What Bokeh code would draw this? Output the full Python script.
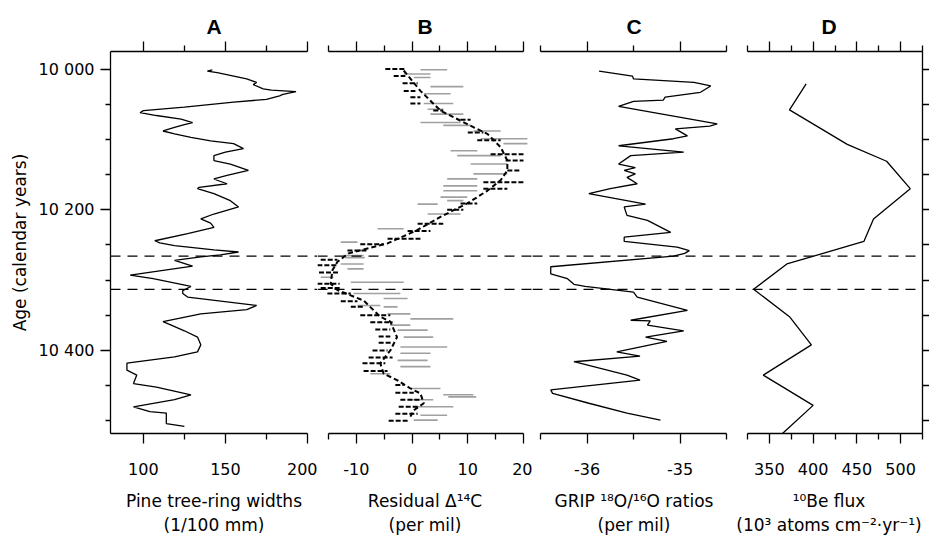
from bokeh.plotting import figure
from bokeh.layouts import row
from bokeh.models import Range1d, FixedTicker, LinearAxis, Span
from bokeh.embed import file_html
from bokeh.resources import INLINE

# ---------------- data ----------------
panel_titles = ["A", "B", "C", "D"]
x_titles = ["Pine tree-ring widths\n(1/100 mm)",
            "Residual \u0394\u00b9\u2074C\n(per mil)",
            "GRIP \u00b9\u2078O/\u00b9\u2076O ratios\n(per mil)",
            "\u00b9\u2070Be flux\n(10\u00b3 atoms cm\u207b\u00b2\u00b7yr\u207b\u00b9)"]
y_title = "Age (calendar years)"
age_ticks = [10000, 10200, 10400]
age_tick_labels = ["10 000", "10 200", "10 400"]
age_minor = [10050, 10100, 10150, 10250, 10300, 10350, 10450, 10500]
boundary_years = [10266, 10313]

# A: pine tree-ring widths
years_a = [10001, 10003, 10005, 10014, 10019, 10022, 10028, 10030, 10032, 10036, 10038, 10043, 10047,
           10054, 10059, 10062, 10066, 10071, 10076, 10079, 10083, 10088, 10092,
           10097, 10102, 10106, 10113, 10118, 10123, 10130, 10135, 10144, 10151,
           10156, 10158, 10163, 10168, 10170, 10177, 10187, 10196, 10206, 10213,
           10219, 10225, 10234, 10244, 10247, 10251, 10257, 10260, 10264, 10267,
           10272, 10280, 10293, 10298, 10309, 10315, 10319, 10324, 10336, 10342,
           10348, 10359, 10364, 10372, 10381, 10392, 10402, 10409, 10418, 10428,
           10435, 10447, 10452, 10463, 10470, 10480, 10487, 10489, 10499, 10504, 10508]
width_a = [142, 139, 145, 163, 169, 167, 173, 178, 193, 185, 183, 175, 155,
           125, 100, 98, 108, 123, 130, 125, 119, 112, 119,
           129, 141, 155, 161, 150, 143, 143, 153, 164, 151,
           143, 145, 151, 134, 133, 143, 153, 158, 143, 135,
           141, 143, 127, 107, 110, 119, 143, 158, 147, 135,
           119, 130, 92, 106, 129, 124, 124, 127, 169, 163,
           135, 112, 117, 125, 133, 135, 133, 119, 90, 90,
           96, 94, 108, 129, 119, 94, 104, 114, 114, 114, 125]
a_ticks, a_minor = [100, 150, 200], [125, 175]
a_tick_labels = ["100", "150", "200"]

# B: residual D14C -- gray annual ranges
gray_years = [10001, 10007, 10012, 10025, 10035, 10049, 10057, 10064, 10076, 10080, 10088, 10099, 10106,
              10116, 10123, 10135, 10149, 10156, 10166, 10173, 10182, 10187, 10192, 10206, 10227,
              10246, 10265, 10268, 10277, 10284, 10296, 10303, 10319, 10326, 10336, 10338, 10348,
              10355, 10364, 10371, 10381, 10395, 10404, 10414, 10423, 10433, 10454, 10463, 10466,
              10470, 10480, 10492, 10499]
gray_lo = [1.5, -1.5, 0.3, 3.3, 2.1, 2.1, 2.8, 3.3, 1.5, 5.6, 11.0, 12.3, 16.4,
           6.9, 8.1, 10.5, 11.0, 6.3, 5.6, 5.6, 5.1, 6.3, 1.0, 2.8, -6.2,
           -12.8, -12.3, -12.0, -12.8, -11.6, -16.4, -11.0, -10.5, -5.1, -9.8, -5.1, -4.4,
           -0.3, -3.9, -2.6, -1.5, -2.1, -2.1, -2.6, -2.1, -7.5, -0.3, 5.6, 6.5,
           -0.3, 0.3, 1.5, 0.3]
gray_hi = [6.3, 3.3, 3.3, 9.2, 6.9, 7.4, 5.6, 9.2, 8.7, 10.5, 15.9, 20.7, 20.7,
           11.7, 15.9, 17.1, 17.1, 11.7, 11.7, 11.7, 9.9, 9.2, 4.6, 8.7, -1.5,
           -9.8, -8.7, -8.5, -8.7, -8.7, -14.1, -1.5, -2.1, -0.8, -5.7, -2.6, -0.3,
           7.4, -0.3, 2.8, 3.8, 6.3, 3.3, 2.8, 3.3, -3.9, 5.1, 11.0, 11.5,
           3.8, 7.4, 6.3, 4.6]
# B: decadal ranges (black dashed)
dec_years = [10000, 10010, 10020, 10031, 10040, 10049, 10059, 10072, 10090, 10101, 10121, 10130, 10144,
             10161, 10170, 10191, 10200, 10220, 10230, 10241, 10249, 10258, 10271, 10279, 10289,
             10305, 10311, 10319, 10330, 10338, 10350, 10360, 10370, 10380, 10389, 10400, 10410,
             10418, 10429, 10449, 10460, 10470, 10480, 10490, 10500]
dec_lo = [-4.8, -3.3, -1.7, -1.5, -0.3, -0.3, 3.8, 8.7, 10.0, 11.7, 14.1, 16.8, 17.1,
          12.8, 12.8, 8.7, 6.3, 1.0, -0.8, -4.4, -9.3, -11.6, -16.4, -17.0, -16.7,
          -17.0, -16.4, -15.2, -12.8, -11.0, -9.3, -7.5, -6.6, -6.0, -6.0, -7.1, -7.8,
          -8.9, -8.7, -3.0, -3.0, -2.1, -2.4, -3.0, -4.2]
dec_hi = [-1.2, -1.2, 1.0, 0.6, 1.5, 1.5, 5.6, 10.5, 12.8, 15.9, 20.0, 20.0, 19.5,
          20.0, 17.1, 11.7, 9.2, 5.6, 3.3, 1.5, -5.1, -8.0, -13.4, -13.4, -13.0,
          -13.0, -12.8, -11.0, -9.8, -8.7, -3.9, -3.5, -3.9, -3.9, -3.5, -4.4, -3.5,
          -4.8, -4.4, -1.5, 0.3, 1.5, 1.0, 1.0, -0.8]
# B: smoothed curve
smooth_years = [10002, 10031, 10059, 10083, 10092, 10111, 10130, 10144, 10158, 10173, 10191, 10210,
                10229, 10248, 10262, 10274, 10286, 10305, 10314, 10329, 10352, 10359, 10381, 10400,
                10418, 10433, 10442, 10454, 10461, 10475, 10485, 10494]
smooth_val = [-1.5, 1.5, 5.1, 11.1, 13.5, 15.9, 17.1, 17.1, 15.9, 13.5, 9.9, 5.1,
              0.9, -4.5, -11.4, -13.4, -14.3, -14.6, -13.4, -8.7, -5.7, -3.9, -2.7, -3.9,
              -5.7, -5.1, -2.7, -0.3, 1.5, 2.1, 0.3, -0.3]
b_ticks, b_minor = [-10, 0, 10, 20], [-15, -5, 5, 15]
b_tick_labels = ["-10", "0", "10", "20"]

# C: GRIP d18O
years_c = [10003, 10010, 10014, 10019, 10024, 10033, 10040, 10044, 10046, 10053, 10078, 10081, 10085,
           10095, 10099, 10109, 10110, 10118, 10123, 10135, 10140, 10144, 10149, 10154, 10163, 10170,
           10177, 10192, 10196, 10208, 10215, 10232, 10239, 10245, 10253, 10258, 10262, 10266, 10281,
           10291, 10298, 10306, 10309, 10317, 10324, 10343, 10357, 10358, 10364, 10372, 10381, 10387,
           10402, 10408, 10416, 10435, 10442, 10456, 10461, 10475, 10489, 10499]
o18_c = [-35.87, -35.51, -35.50, -34.85, -34.67, -34.78, -35.16, -35.18, -35.50, -35.66, -34.60, -34.68, -35.05,
         -34.92, -35.07, -35.66, -35.60, -34.96, -35.53, -35.66, -35.48, -35.60, -35.48, -35.57, -35.46, -35.75,
         -35.98, -35.37, -35.60, -35.57, -35.35, -35.10, -35.60, -35.60, -35.03, -34.90, -34.95, -35.07, -36.39,
         -36.39, -36.21, -36.14, -36.02, -35.50, -35.46, -34.92, -35.53, -35.32, -35.35, -34.96, -35.37, -35.14,
         -35.68, -35.43, -36.14, -35.57, -35.43, -36.39, -36.37, -35.98, -35.57, -35.21]
c_ticks, c_minor = [-36, -35], [-36.5, -35.5, -34.5]
c_tick_labels = ["-36", "-35"]

# D: 10Be flux
years_d = [10021, 10058, 10107, 10131, 10170, 10213, 10245, 10277, 10313, 10352, 10392, 10435, 10478, 10518]
flux_d = [392, 373, 439, 484, 511, 469, 458, 370, 332, 373, 398, 343, 400, 365]
d_ticks, d_minor = [350, 400, 450, 500], [325, 375, 425, 475, 525]
d_tick_labels = ["350", "400", "450", "500"]

# ---------------- layout ----------------
FRAME_H = 382
TOP = 51
BOTTOM = 90
LABEL_FONT = "DejaVu Sans"
INK = "black"
y_rng = Range1d(10518, 9975)


def ext_range(lo, hi, data_px, pad_l, pad_r):
    k = (hi - lo) / data_px
    return Range1d(lo - pad_l * k, hi + pad_r * k)


def style_x_axis(ax, ticks, minor, bounds, show_labels, overrides=None):
    ax.ticker = FixedTicker(ticks=ticks, minor_ticks=minor)
    ax.bounds = bounds
    ax.axis_line_color = INK
    ax.axis_line_width = 1.3
    ax.major_tick_line_color = INK
    ax.minor_tick_line_color = INK
    ax.major_tick_line_width = 1.3
    ax.minor_tick_line_width = 1.3
    ax.major_tick_in = 0
    ax.minor_tick_in = 0
    ax.major_tick_out = 10
    ax.minor_tick_out = 6
    ax.major_label_text_font = LABEL_FONT
    ax.major_label_text_color = INK
    ax.axis_label_text_color = INK
    if show_labels:
        ax.major_label_text_font_size = "16px"
        ax.major_label_standoff = 19
        if overrides:
            ax.major_label_overrides = overrides
    else:
        ax.major_label_text_font_size = "1px"
        ax.major_label_standoff = 0
        ax.major_label_overrides = {t: "" for t in ticks}


def make_fig(idx, frame_w, xr, b_left, b_right, ticks, minor, bounds, overrides=None,
             left_axis=False, label_size="17px"):
    p = figure(frame_width=frame_w, frame_height=FRAME_H, x_range=xr, y_range=y_rng,
               min_border_left=b_left, min_border_right=b_right,
               min_border_top=TOP, min_border_bottom=BOTTOM,
               output_backend="svg", toolbar_location=None,
               y_axis_location="left" if left_axis else None,
               title=panel_titles[idx])
    p.outline_line_color = None
    p.xgrid.visible = False
    p.ygrid.visible = False
    p.background_fill_color = "white"
    p.border_fill_color = "white"
    p.title.align = "center"
    p.title.text_font = "Liberation Sans"
    p.title.text_font_style = "bold"
    p.title.text_font_size = "21px"
    p.title.text_color = INK
    p.title.standoff = 7
    bx = p.xaxis[0]
    style_x_axis(bx, ticks, minor, bounds, True, overrides)
    bx.axis_label = x_titles[idx]
    bx.axis_label_text_font = LABEL_FONT
    bx.axis_label_text_font_style = "normal"
    bx.axis_label_text_font_size = label_size
    bx.axis_label_standoff = 13
    tx = LinearAxis()
    style_x_axis(tx, ticks, minor, bounds, False)
    p.add_layout(tx, "above")
    for yv in boundary_years:
        p.add_layout(Span(location=yv, dimension="width", line_color=INK,
                          line_dash="10 7", line_width=1.3))
    return p


def style_y_axis(ax, show_labels, tick_len_major, tick_len_minor):
    ax.ticker = FixedTicker(ticks=age_ticks, minor_ticks=age_minor)
    ax.axis_line_color = INK
    ax.axis_line_width = 1.3
    ax.major_tick_line_color = INK
    ax.minor_tick_line_color = INK
    ax.major_tick_line_width = 1.3
    ax.minor_tick_line_width = 1.3
    ax.major_tick_in = 0
    ax.minor_tick_in = 0
    ax.major_tick_out = tick_len_major
    ax.minor_tick_out = tick_len_minor
    ax.major_label_text_font = LABEL_FONT
    ax.major_label_text_color = INK
    ax.axis_label_text_color = INK
    if show_labels:
        ax.major_label_text_font_size = "16px"
        ax.major_label_standoff = 6
        ax.major_label_overrides = dict(zip(age_ticks, age_tick_labels))
    else:
        ax.major_label_text_font_size = "1px"
        ax.major_label_standoff = 0
        ax.major_label_overrides = {t: "" for t in age_ticks}


# Panel A: data 110..307 px, frame 110..317
pA = make_fig(0, 207, ext_range(80, 200, 197, 0, 10), 110, 0, a_ticks, a_minor, (80, 200),
              overrides=dict(zip(a_ticks, a_tick_labels)), left_axis=True)
ya = pA.yaxis[0]
style_y_axis(ya, True, 10, 5)
ya.axis_label = y_title
ya.axis_label_text_font = LABEL_FONT
ya.axis_label_text_font_style = "normal"
ya.axis_label_text_font_size = "17px"
ya.axis_label_standoff = 6
pA.line(width_a, years_a, line_color=INK, line_width=1.3)

# Panel B: data 328..523, frame 317..532
pB = make_fig(1, 215, ext_range(-15, 20, 195, 11, 9), 0, 0, b_ticks, b_minor, (-15, 20),
              overrides=dict(zip(b_ticks, b_tick_labels)))
pB.segment(x0=gray_lo, y0=gray_years, x1=gray_hi, y1=gray_years, line_color="#a0a0a0", line_width=1.6)
pB.segment(x0=dec_lo, y0=dec_years, x1=dec_hi, y1=dec_years, line_color=INK, line_width=2,
           line_dash="5 2")
pB.line(smooth_val, smooth_years, line_color=INK, line_width=2, line_dash="5 3")

# Panel C: data 540..726, frame 532..735
pC = make_fig(2, 203, ext_range(-36.5, -34.5, 186, 8, 9), 0, 0, c_ticks, c_minor, (-36.5, -34.5),
              overrides=dict(zip(c_ticks, c_tick_labels)))
pC.line(o18_c, years_c, line_color=INK, line_width=1.3)

# Panel D: data 747..922, frame 735..922
pD = make_fig(3, 187, ext_range(325, 525, 175, 12, 0), 0, 2, d_ticks, d_minor, (325, 525),
              overrides=dict(zip(d_ticks, d_tick_labels)))
ry = LinearAxis()
style_y_axis(ry, False, 7, 7)
pD.add_layout(ry, "right")
pD.line(flux_d, years_d, line_color=INK, line_width=1.3)

layout = row(pA, pB, pC, pD)
open("out.html", "w").write(file_html(layout, INLINE))
